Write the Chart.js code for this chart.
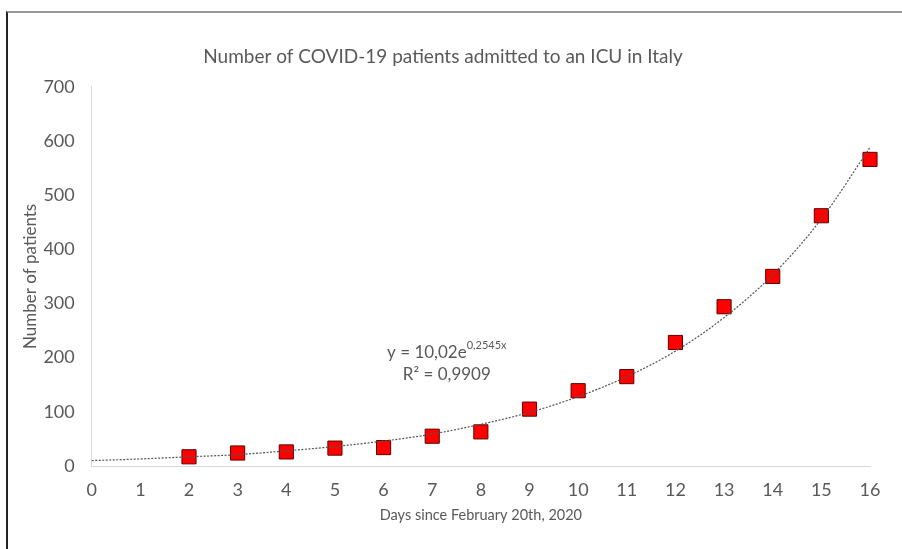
<!DOCTYPE html>
<html>
<head>
<meta charset="utf-8">
<script src="https://cdn.jsdelivr.net/npm/chart.js@4"></script>
<style>
  body { margin: 0; background: #fff; }
  #marco { position: absolute; left: 6px; top: 11px; width: 910px; height: 560px;
           border-left: 2px solid #222; border-top: 2px solid #999; }
  #lienzo { position: absolute; left: 0; top: 0; }
</style>
</head>
<body>
<div id="marco"></div>
<canvas id="lienzo" width="902" height="549"></canvas>
<script>
const dias = [2, 3, 4, 5, 6, 7, 8, 9, 10, 11, 12, 13, 14, 15, 16];
const pacientes = [17, 24, 26, 33, 34, 55, 63, 105, 139, 165, 228, 294, 350, 462, 566];
// trend line (exponential fit, shown dotted)
const diasTendencia = [0, 1, 2, 3, 4, 5, 6, 7, 8, 9, 10, 11, 12, 13, 14, 15, 16];
const tendencia = [10, 13, 17, 21, 28, 36, 46, 59, 77, 99, 128, 165, 212, 274, 353, 456, 588];
const ticksY = [0, 100, 200, 300, 400, 500, 600, 700];
const ticksX = [0, 1, 2, 3, 4, 5, 6, 7, 8, 9, 10, 11, 12, 13, 14, 15, 16];
const ecuacion = ["y = 10,02e", "0,2545x", "R² = 0,9909"];

const gris = "#595959";
const fuente = "Lato, 'Open Sans', sans-serif";

const textoEcuacion = {
  id: "textoEcuacion",
  afterDatasetsDraw(chart) {
    const ctx = chart.ctx;
    const x = chart.scales.x.getPixelForValue(7.3);
    const y = chart.scales.y.getPixelForValue(210);
    ctx.save();
    ctx.fillStyle = gris;
    ctx.textBaseline = "alphabetic";
    ctx.font = "17px " + fuente;
    const w1 = ctx.measureText(ecuacion[0]).width;
    ctx.font = "11px " + fuente;
    const w2 = ctx.measureText(ecuacion[1]).width;
    const x0 = x - (w1 + w2) / 2;
    ctx.font = "17px " + fuente;
    ctx.textAlign = "left";
    ctx.fillText(ecuacion[0], x0, y + 6);
    ctx.font = "11px " + fuente;
    ctx.fillText(ecuacion[1], x0 + w1, y - 3);
    ctx.font = "17px " + fuente;
    ctx.textAlign = "center";
    ctx.fillText(ecuacion[2], x, y + 28);
    ctx.restore();
  }
};

new Chart(document.getElementById("lienzo"), {
  type: "scatter",
  data: {
    datasets: [
      {
        label: "Tendencia",
        type: "line",
        data: diasTendencia.map((d, i) => ({ x: d, y: tendencia[i] })),
        borderColor: "#555",
        borderWidth: 1.2,
        borderDash: [2, 1.5],
        pointRadius: 0,
        cubicInterpolationMode: "monotone",
        fill: false
      },
      {
        label: "Pacientes",
        data: dias.map((d, i) => ({ x: d, y: pacientes[i] })),
        pointStyle: "rect",
        pointRadius: 10,
        backgroundColor: "#ff0000",
        borderColor: "#600000",
        borderWidth: 1,
        clip: false
      }
    ]
  },
  plugins: [textoEcuacion],
  options: {
    responsive: false,
    animation: false,
    layout: { padding: { left: 16, right: 32, top: 12, bottom: 21 } },
    plugins: {
      legend: { display: false },
      tooltip: { enabled: false },
      title: {
        display: true,
        text: "Number of COVID-19 patients admitted to an ICU in Italy",
        color: gris,
        font: { family: fuente, size: 19, weight: "normal" },
        padding: { top: 33, bottom: 19 }
      }
    },
    scales: {
      x: {
        type: "linear",
        min: 0,
        max: 16,
        afterBuildTicks: s => { s.ticks = ticksX.map(v => ({ value: v })); },
        grid: { display: false, drawTicks: false },
        border: { color: "#d9d9d9", width: 1 },
        ticks: { color: gris, font: { family: fuente, size: 18 }, padding: 13 },
        title: {
          display: true,
          text: "Days since February 20th, 2020",
          color: gris,
          font: { family: fuente, size: 14.5 },
          padding: { top: -7 }
        }
      },
      y: {
        min: 0,
        max: 700,
        afterBuildTicks: s => { s.ticks = ticksY.map(v => ({ value: v })); },
        grid: { display: false, drawTicks: false },
        border: { color: "#d9d9d9", width: 1 },
        ticks: { color: gris, font: { family: fuente, size: 18 }, padding: 17 },
        title: {
          display: true,
          text: "Number of patients",
          color: gris,
          font: { family: fuente, size: 17 },
          padding: { top: 4, bottom: -14 }
        }
      }
    }
  }
});
</script>
</body>
</html>
